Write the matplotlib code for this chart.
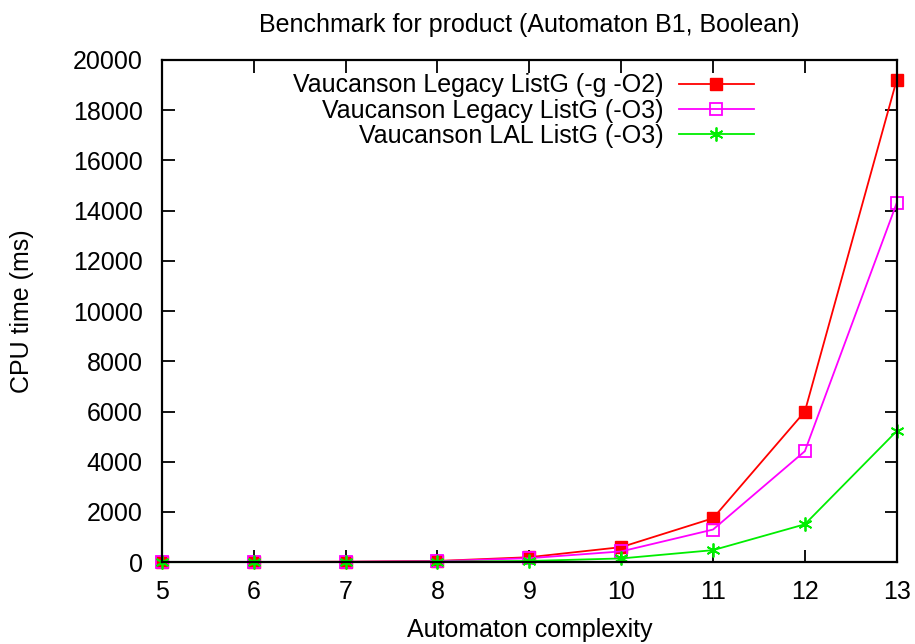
import matplotlib
matplotlib.use("Agg")
import matplotlib.pyplot as plt

plt.rcParams['font.family'] = ['Liberation Sans', 'DejaVu Sans']

complexity = [5, 6, 7, 8, 9, 10, 11, 12, 13]
legacy_g_o2 = [5, 10, 20, 50, 200, 600, 1750, 6000, 19200]
legacy_o3 = [4, 8, 15, 40, 160, 430, 1300, 4420, 14300]
lal_o3 = [2, 4, 8, 20, 50, 150, 480, 1510, 5220]

fig = plt.figure(figsize=(9.15, 6.44), dpi=100)
ax = fig.add_axes([0.177, 0.127, 0.803, 0.78])

ax.plot(complexity, legacy_g_o2, color='#ff0000', lw=1.3, marker='s', ms=8,
        mfc='#ff0000', mec='#ff0000', clip_on=False,
        label='Vaucanson Legacy ListG (-g -O2)')
ax.plot(complexity, legacy_o3, color='#ff00ff', lw=1.3, marker='s', ms=8,
        mfc='none', mec='#ff00ff', mew=1.3, clip_on=False,
        label='Vaucanson Legacy ListG (-O3)')
ax.plot(complexity, lal_o3, color='#00ee00', lw=1.3, marker=(6, 2, 0), ms=10,
        mec='#00ee00', mew=1.3, clip_on=False,
        label='Vaucanson LAL ListG (-O3)')

ax.set_xlim(5, 13)
ax.set_ylim(0, 20000)
ax.set_xticks(complexity)
ax.set_yticks(range(0, 20001, 2000))
ax.tick_params(direction='in', length=9, width=1.3, labelsize=18,
               top=True, right=True)
ax.tick_params(axis='x', pad=13)
ax.tick_params(axis='y', pad=14)
for s in ax.spines.values():
    s.set_linewidth(1.6)

ax.set_title('Benchmark for product (Automaton B1, Boolean)', fontsize=18, pad=20)
ax.set_xlabel('Automaton complexity', fontsize=18, labelpad=10)
ax.set_ylabel('CPU time (ms)', fontsize=18, labelpad=28)

ax.legend(loc='upper right', bbox_to_anchor=(0.829, 1.008), frameon=False,
          markerfirst=False, fontsize=18, handlelength=3.0, labelspacing=0.05,
          handletextpad=0.6, borderpad=0.2)

fig.savefig('out.png', dpi=100)
